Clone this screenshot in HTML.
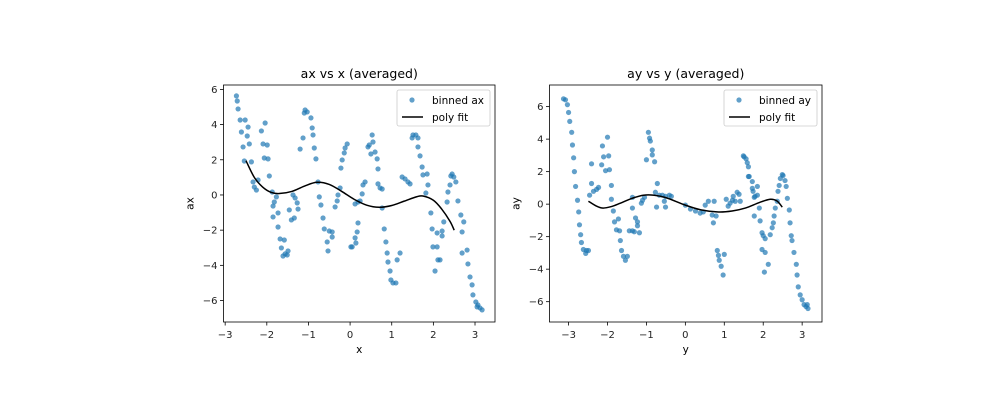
<!DOCTYPE html>
<html><head><meta charset="utf-8"><style>
body{margin:0;background:#fff;}
svg{display:block;font-family:"DejaVu Sans","Liberation Sans",sans-serif;}
</style></head><body>
<svg id="chart" width="1000" height="400"></svg>
<script>
// Left panel data (ax vs x)
const axX=[-2.73,-2.71,-2.69,-2.64,-2.52,-2.61,-2.45,-2.47,-2.42,-2.57,-2.54,-2.37,-2.33,-2.21,-2.30,-2.25,-2.13,-2.04,-2.09,-1.99,-2.06,-1.97,-1.94,-1.87,-1.77,-1.82,-1.85,-1.73,-1.85,-1.73,-1.68,-1.58,-1.65,-1.49,-1.56,-1.61,-1.51,-1.08,-1.03,-1.10,-0.94,-0.91,-0.89,-1.13,-1.20,-0.86,-0.82,-0.77,-1.37,-1.32,-1.27,-1.25,-1.46,-1.34,-1.41,-0.74,-0.70,-0.65,-0.62,-0.50,-0.43,-0.55,-0.53,-0.43,-0.07,-0.12,-0.14,-0.19,-0.22,-0.24,-0.29,-0.31,-0.36,0.19,0.19,0.17,0.12,0.05,0.02,0.14,0.12,0.24,0.29,0.31,0.36,0.43,0.46,0.53,0.55,0.60,0.50,0.65,0.67,0.67,0.72,0.77,0.77,0.82,0.86,0.89,0.91,0.96,0.98,1.03,1.10,1.13,1.20,1.25,1.32,1.39,1.44,1.51,1.58,1.49,1.63,1.63,1.68,1.73,1.75,1.85,1.87,1.82,1.94,1.97,2.09,1.99,2.09,2.11,2.16,2.04,2.21,2.21,2.25,2.33,2.35,2.40,2.42,2.45,2.49,2.54,2.59,2.66,2.73,2.69,2.81,2.69,2.83,2.88,2.93,2.95,3.02,3.07,3.12,3.17,3.05];
const axY=[5.63,5.34,4.89,4.26,4.26,3.58,3.86,3.35,2.90,2.73,1.93,1.88,0.74,0.85,0.45,0.28,3.64,4.09,2.90,2.84,2.10,2.05,1.08,0.17,-0.11,-0.40,-0.63,-1.02,-1.25,-1.82,-2.50,-2.56,-3.01,-3.18,-3.35,-3.47,-3.41,4.83,4.72,4.66,4.38,3.81,3.41,3.24,2.61,2.67,2.05,0.74,0.00,-0.17,-0.45,-0.80,-0.85,-1.31,-1.42,-0.11,-0.57,-1.31,-1.93,-2.05,-2.10,-2.67,-3.18,-2.39,2.90,2.67,2.39,1.99,1.53,0.40,0.00,-0.34,-0.68,-0.40,-1.59,-2.10,-2.44,-2.95,-2.95,-2.73,-0.51,-0.34,0.06,0.57,0.74,2.73,2.84,3.41,3.01,2.44,2.33,2.05,1.48,0.63,0.40,0.34,-0.74,-1.93,-2.67,-3.30,-3.81,-4.32,-4.83,-5.00,-5.00,-3.69,-3.30,1.02,0.91,0.74,0.63,3.41,3.41,3.24,3.24,2.73,2.22,1.59,1.14,1.19,0.57,0.11,-1.02,-1.93,-2.16,-2.95,-2.95,-3.69,-3.69,-4.32,-2.33,-2.05,-1.53,-0.40,0.17,0.57,1.08,1.19,1.02,0.74,-0.34,-1.14,-1.53,-2.10,-3.13,-3.30,-3.92,-4.66,-5.11,-5.68,-6.08,-6.25,-6.42,-6.53,-6.36];
const fitAxX=[-2.5,-2.3,-2.1,-1.9,-1.7,-1.4,-1.1,-0.8,-0.5,-0.2,0.1,0.4,0.7,1.0,1.3,1.6,1.75,2.0,2.2,2.4,2.5];
const fitAxY=[1.95,1.0,0.45,0.15,0.08,0.2,0.5,0.72,0.6,0.2,-0.25,-0.58,-0.7,-0.6,-0.35,-0.1,-0.06,-0.3,-0.8,-1.5,-2.0];
// Right panel data (ay vs y)
const ayX=[-3.13,-3.08,-3.03,-3.00,-2.97,-2.92,-2.90,-2.87,-2.85,-2.82,-2.77,-2.74,-2.72,-2.69,-2.67,-2.62,-2.56,-2.54,-2.49,-2.46,-2.41,-2.41,-2.36,-2.28,-2.23,-2.15,-2.13,-2.10,-2.05,-2.00,-1.97,-1.95,-1.90,-1.90,-1.85,-1.82,-1.77,-1.72,-1.69,-1.67,-1.64,-1.59,-1.54,-1.49,-1.44,-1.36,-1.31,-1.28,-1.23,-1.23,-1.18,-1.36,-1.36,-1.13,-1.10,-1.05,-0.95,-0.92,-0.90,-0.85,-0.85,-0.79,-1.00,-0.72,-0.77,-0.67,-0.59,-0.51,-0.54,-0.74,-0.51,-0.41,-0.36,0,0.13,0.26,0.38,0.46,0.51,0.59,0.69,0.72,0.74,0.79,0.82,0.85,0.87,0.92,0.97,1.00,1.05,1.10,1.15,1.21,1.23,1.28,1.33,1.38,1.41,1.49,1.51,1.56,1.59,1.62,1.62,1.64,1.72,1.72,1.74,1.77,1.79,1.85,1.85,1.90,1.77,1.92,1.97,2.00,2.05,1.97,2.05,2.13,2.03,2.18,2.23,2.26,2.28,2.31,2.36,2.38,2.41,2.44,2.49,2.51,2.56,2.59,2.62,2.67,2.69,2.72,2.74,2.79,2.85,2.87,2.90,2.95,3.00,3.05,3.10,3.15,3.13];
const ayY=[6.48,6.42,6.12,5.64,5.09,4.42,3.64,2.85,2.00,1.09,0.24,-0.48,-1.27,-1.88,-2.36,-2.79,-3.03,-2.85,-2.85,0.55,1.27,2.48,0.79,0.91,1.03,2.42,3.58,2.91,2.06,4.12,2.97,2.12,1.15,0.30,-0.42,-1.09,-1.58,-0.91,-1.64,-2.24,-2.85,-3.21,-3.45,-3.21,-1.64,-1.64,-1.70,-0.85,-1.09,-1.33,-1.76,-0.24,0.42,0.06,0.24,0.42,4.42,4.06,3.88,3.33,3.03,2.61,2.73,1.27,0.73,0.55,0.55,0.48,0.18,-0.18,-0.18,0.55,0.48,-0.06,-0.30,-0.42,-0.55,-0.48,-0.06,0.18,-0.67,-1.15,0.18,-0.73,-2.85,-3.15,-3.45,-3.82,-4.36,-3.09,0.30,-0.12,0.06,0.24,0.48,0.18,0.73,0.61,0.18,2.97,2.91,2.79,2.55,2.30,1.70,1.70,1.39,0.97,0.79,0.42,0.48,1.09,0.55,-0.24,-0.73,-1.03,-1.76,-1.94,-2.12,-2.79,-2.97,-3.70,-4.18,-1.88,-1.45,-1.15,-0.73,-0.24,0.18,0.79,1.15,1.58,1.82,1.76,1.45,1.09,0.36,-0.36,-1.15,-1.94,-2.24,-2.97,-3.70,-4.36,-5.09,-5.58,-5.88,-6.18,-6.30,-6.42,-6.18];
const fitAyX=[-2.49,-2.3,-2.13,-1.9,-1.67,-1.4,-1.08,-0.8,-0.5,0,0.4,0.85,1.2,1.54,1.9,2.18,2.35,2.49];
const fitAyY=[0.18,-0.1,-0.24,-0.15,0.06,0.33,0.55,0.55,0.4,-0.06,-0.35,-0.48,-0.42,-0.24,0.1,0.30,0.2,-0.18];
const xTicks=[-3,-2,-1,0,1,2,3];
const yTicks=[-6,-4,-2,0,2,4,6];

const NS="http://www.w3.org/2000/svg";
const svg=document.getElementById('chart');
function mk(tag,attrs,parent){const e=document.createElementNS(NS,tag);for(const k in attrs)e.setAttribute(k,attrs[k]);(parent||svg).appendChild(e);return e;}

function panel(cfg){
  const g=mk('g',{});
  
  
  const {L,R,T,B,x0,x1,y0,y1}=cfg;
  const sx=v=>L+(v-x0)/(x1-x0)*(R-L);
  const sy=v=>B-(v-y0)/(y1-y0)*(B-T);
  // points
  const pts=mk('g',{},g);
  
  
  for(let i=0;i<cfg.px.length;i++){
    const c=mk('circle',{cx:sx(cfg.px[i]),cy:sy(cfg.py[i]),r:2.6,fill:'#1f77b4','fill-opacity':0.7},pts);
    
    
  }
  // fit line (catmull-rom)
  const fx=cfg.fx.map(sx), fy=cfg.fy.map(sy);
  let d='M'+fx[0]+','+fy[0];
  for(let i=0;i<fx.length-1;i++){
    const i0=Math.max(i-1,0),i3=Math.min(i+2,fx.length-1);
    const c1x=fx[i]+(fx[i+1]-fx[i0])/6,c1y=fy[i]+(fy[i+1]-fy[i0])/6;
    const c2x=fx[i+1]-(fx[i3]-fx[i])/6,c2y=fy[i+1]-(fy[i3]-fy[i])/6;
    d+=' C'+c1x+','+c1y+' '+c2x+','+c2y+' '+fx[i+1]+','+fy[i+1];
  }
  const line=mk('path',{d:d,fill:'none',stroke:'#000','stroke-width':1.5},g);
  
  
  // frame
  const fr=mk('rect',{x:L,y:T,width:R-L,height:B-T,fill:'none',stroke:'#000','stroke-width':0.8},g);
  
  
  // ticks
  xTicks.forEach(t=>{const x=sx(t);
    mk('line',{x1:x,x2:x,y1:B,y2:B+3.5,stroke:'#000','stroke-width':0.8},g);
    const tx=mk('text',{x:x,y:B+16,'font-size':10,'text-anchor':'middle',fill:'#222'},g);
    tx.textContent=(t<0?'\u2212'+(-t):t);
    
    
  });
  yTicks.forEach(t=>{const y=sy(t);
    mk('line',{x1:L,x2:L-3.5,y1:y,y2:y,stroke:'#000','stroke-width':0.8},g);
    const tx=mk('text',{x:L-6,y:y+3.5,'font-size':10,'text-anchor':'end',fill:'#222'},g);
    tx.textContent=(t<0?'\u2212'+(-t):t);
    
    
  });
  const title=mk('text',{x:(L+R)/2,y:T-7,'font-size':12.5,'text-anchor':'middle',fill:'#000'},g);
  title.textContent=cfg.title;
  
  
  const xl=mk('text',{x:(L+R)/2,y:B+31,'font-size':10.5,'text-anchor':'middle',fill:'#000'},g);
  xl.textContent=cfg.xlab;
  
  
  const yx=L-30,yy=(T+B)/2;
  const yl=mk('text',{x:yx,y:yy,'font-size':10.5,'text-anchor':'middle',fill:'#000',transform:'rotate(-90 '+yx+' '+yy+')'},g);
  yl.textContent=cfg.ylab;
  
  
  // legend
  const lg=mk('g',{},g);
  
  
  const lx=R-98,ly=T+5;
  mk('rect',{x:lx,y:ly,width:93,height:36,rx:2,fill:'#fff','fill-opacity':0.8,stroke:'#ccc','stroke-width':0.8},lg);
  mk('circle',{cx:lx+15,cy:ly+10,r:2.6,fill:'#1f77b4','fill-opacity':0.7},lg);
  const t1=mk('text',{x:lx+35,y:ly+14,'font-size':10.5,fill:'#000'},lg);
  t1.textContent=cfg.leg;
  
  
  mk('line',{x1:lx+5,x2:lx+26,y1:ly+27,y2:ly+27,stroke:'#000','stroke-width':1.5},lg);
  const t2=mk('text',{x:lx+35,y:ly+31,'font-size':10.5,fill:'#000'},lg);
  t2.textContent='poly fit';
  
  
}
panel({name:'ax-vs-x-panel',L:223.5,R:495,T:85,B:322,x0:-3.04,x1:3.48,y0:-7.22,y1:6.25,px:axX,py:axY,fx:fitAxX,fy:fitAxY,title:'ax vs x (averaged)',xlab:'x',ylab:'ax',leg:'binned ax'});
panel({name:'ay-vs-y-panel',L:549.5,R:822,T:85,B:322,x0:-3.49,x1:3.51,y0:-7.25,y1:7.33,px:ayX,py:ayY,fx:fitAyX,fy:fitAyY,title:'ay vs y (averaged)',xlab:'y',ylab:'ay',leg:'binned ay'});
</script>
</body></html>
